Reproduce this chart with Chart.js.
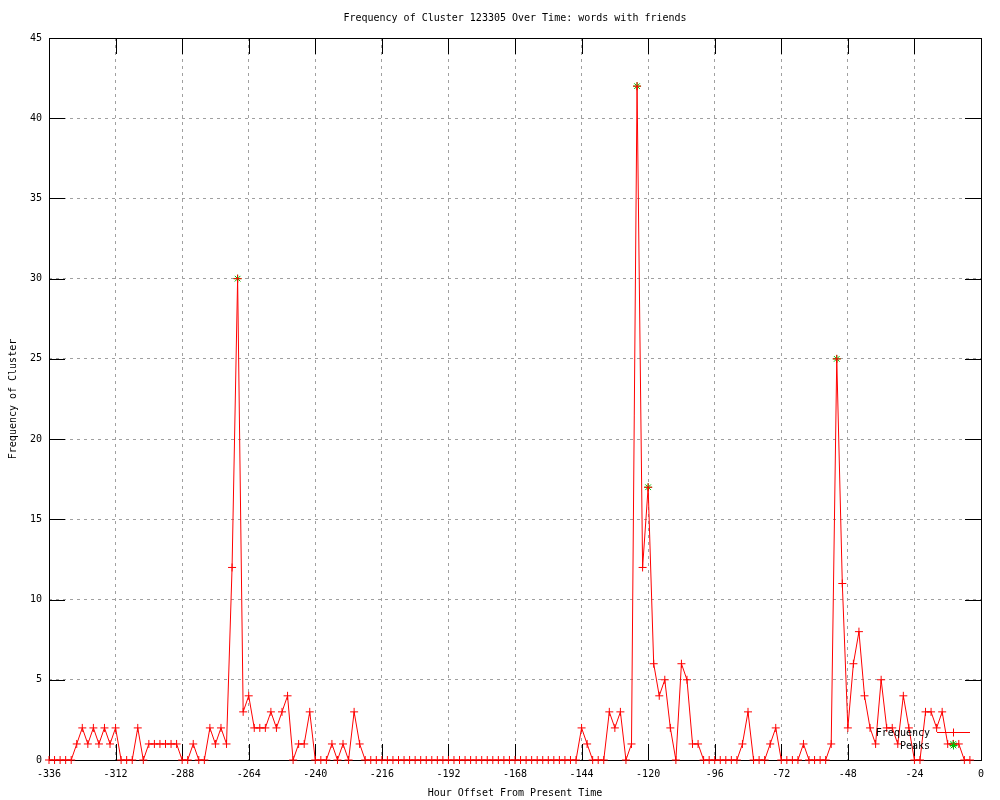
<!DOCTYPE html>
<html>
<head>
<meta charset="utf-8">
<title>Frequency of Cluster 123305 Over Time</title>
<script src="https://cdn.jsdelivr.net/npm/chart.js@4/dist/chart.umd.min.js"></script>
<style>
  html, body { margin: 0; padding: 0; background: #fff; }
</style>
</head>
<body>
<canvas id="myChart" width="1000" height="800"></canvas>
<script>
// one sample every 2 hours, from -336 up to -4
const hours = [
  -336, -334, -332, -330, -328, -326, -324, -322, -320, -318, -316, -314,
  -312, -310, -308, -306, -304, -302, -300, -298, -296, -294, -292, -290,
  -288, -286, -284, -282, -280, -278, -276, -274, -272, -270, -268, -266,
  -264, -262, -260, -258, -256, -254, -252, -250, -248, -246, -244, -242,
  -240, -238, -236, -234, -232, -230, -228, -226, -224, -222, -220, -218,
  -216, -214, -212, -210, -208, -206, -204, -202, -200, -198, -196, -194,
  -192, -190, -188, -186, -184, -182, -180, -178, -176, -174, -172, -170,
  -168, -166, -164, -162, -160, -158, -156, -154, -152, -150, -148, -146,
  -144, -142, -140, -138, -136, -134, -132, -130, -128, -126, -124, -122,
  -120, -118, -116, -114, -112, -110, -108, -106, -104, -102, -100, -98,
  -96, -94, -92, -90, -88, -86, -84, -82, -80, -78, -76, -74,
  -72, -70, -68, -66, -64, -62, -60, -58, -56, -54, -52, -50,
  -48, -46, -44, -42, -40, -38, -36, -34, -32, -30, -28, -26,
  -24, -22, -20, -18, -16, -14, -12, -10, -8, -6, -4
];

const frequency = [
  0, 0, 0, 0, 0, 1, 2, 1, 2, 1, 2, 1,
  2, 0, 0, 0, 2, 0, 1, 1, 1, 1, 1, 1,
  0, 0, 1, 0, 0, 2, 1, 2, 1, 12, 30, 3,
  4, 2, 2, 2, 3, 2, 3, 4, 0, 1, 1, 3,
  0, 0, 0, 1, 0, 1, 0, 3, 1, 0, 0, 0,
  0, 0, 0, 0, 0, 0, 0, 0, 0, 0, 0, 0,
  0, 0, 0, 0, 0, 0, 0, 0, 0, 0, 0, 0,
  0, 0, 0, 0, 0, 0, 0, 0, 0, 0, 0, 0,
  2, 1, 0, 0, 0, 3, 2, 3, 0, 1, 42, 12,
  17, 6, 4, 5, 2, 0, 6, 5, 1, 1, 0, 0,
  0, 0, 0, 0, 0, 1, 3, 0, 0, 0, 1, 2,
  0, 0, 0, 0, 1, 0, 0, 0, 0, 1, 25, 11,
  2, 6, 8, 4, 2, 1, 5, 2, 2, 1, 4, 2,
  0, 0, 3, 3, 2, 3, 1, 1, 1, 0, 0
];

const peakHours = [-268, -124, -120, -52, -10];
const peakValues = [30, 42, 17, 25, 1];

const xTicks = [-336, -312, -288, -264, -240, -216, -192, -168, -144, -120, -96, -72, -48, -24, 0];
const yTicks = [0, 5, 10, 15, 20, 25, 30, 35, 40, 45];

const chartTitle = 'Frequency of Cluster 123305 Over Time: words with friends';

const FONT = { family: 'DejaVu Sans Mono', size: 10, weight: 'normal' };

// gnuplot style frame with inward tick marks
const framePlugin = {
    id: 'frame',
    beforeDatasetsDraw(chart) {
        const { ctx, chartArea: a, scales } = chart;
        const tic = 16;
        ctx.save();
        ctx.strokeStyle = '#000';
        ctx.lineWidth = 1;
        ctx.strokeRect(a.left + 0.5, a.top + 0.5, a.right - a.left, a.bottom - a.top);
        ctx.beginPath();
        xTicks.forEach(v => {
            const px = Math.round(scales.x.getPixelForValue(v)) + 0.5;
            ctx.moveTo(px, a.bottom); ctx.lineTo(px, a.bottom - tic);
            ctx.moveTo(px, a.top); ctx.lineTo(px, a.top + tic);
        });
        yTicks.forEach(v => {
            const py = Math.round(scales.y.getPixelForValue(v)) + 0.5;
            ctx.moveTo(a.left, py); ctx.lineTo(a.left + tic, py);
            ctx.moveTo(a.right, py); ctx.lineTo(a.right - tic, py);
        });
        ctx.stroke();

        // title centred over the plot area, like gnuplot does
        ctx.font = '10px "DejaVu Sans Mono"';
        ctx.fillStyle = '#000';
        ctx.textAlign = 'center';
        ctx.textBaseline = 'middle';
        ctx.fillText(chartTitle, (a.left + a.right) / 2, 18);
        ctx.restore();
    }
};

// key sits in the lower right corner, as in the original
const keyPlugin = {
    id: 'key',
    afterDatasetsDraw(chart) {
        const { ctx } = chart;
        const ds = chart.data.datasets;
        ctx.save();
        ctx.font = '10px "DejaVu Sans Mono"';
        ctx.fillStyle = '#000';
        ctx.textAlign = 'right';
        ctx.textBaseline = 'middle';
        ctx.fillText(ds[0].label, 930, 733);
        ctx.fillText(ds[1].label, 930, 746);

        ctx.strokeStyle = '#ff0000';
        ctx.lineWidth = 1;
        ctx.beginPath();
        ctx.moveTo(937, 732.5);
        ctx.lineTo(970, 732.5);
        ctx.stroke();
        Chart.helpers.drawPoint(ctx, { pointStyle: 'cross', radius: 4, borderWidth: 1 }, 953.5, 732.5);
        ctx.strokeStyle = '#00c000';
        Chart.helpers.drawPoint(ctx, { pointStyle: 'star', radius: 4, borderWidth: 1 }, 953.5, 745.5);
        ctx.restore();
    }
};

const ctx = document.getElementById('myChart').getContext('2d');
const chart = new Chart(ctx, {
    type: 'line',
    data: {
        datasets: [{
            label: 'Frequency',
            data: hours.map((h, i) => ({ x: h, y: frequency[i] })),
            borderColor: '#ff0000',
            backgroundColor: '#ff0000',
            borderWidth: 1,
            pointStyle: 'cross',
            pointRadius: 4,
            pointBorderWidth: 1,
            pointBorderColor: '#ff0000',
            tension: 0,
            fill: false,
            clip: false,
            order: 0
        }, {
            label: 'Peaks',
            data: peakHours.map((h, i) => ({ x: h, y: peakValues[i] })),
            showLine: false,
            borderColor: '#00c000',
            backgroundColor: '#00c000',
            pointStyle: 'star',
            pointRadius: 4,
            pointBorderWidth: 1,
            pointBorderColor: '#00c000',
            clip: false,
            order: 1
        }]
    },
    options: {
        responsive: false,
        animation: false,
        devicePixelRatio: 1,
        layout: { padding: { left: 0, right: 19, top: 38, bottom: 0 } },
        plugins: {
            legend: { display: false },
            tooltip: { enabled: false },
            title: { display: false }
        },
        scales: {
            x: {
                type: 'linear',
                min: -336,
                max: 0,
                afterBuildTicks: s => { s.ticks = xTicks.map(v => ({ value: v })); },
                afterFit: s => { s.height = 40; },
                ticks: { font: FONT, color: '#000', padding: 8, maxRotation: 0, autoSkip: false },
                grid: { color: '#a0a0a0', drawTicks: false },
                border: { display: false, dash: [3, 4] },
                title: {
                    display: true,
                    text: 'Hour Offset From Present Time',
                    font: FONT,
                    color: '#000',
                    padding: { top: 0, bottom: 1 }
                }
            },
            y: {
                min: 0,
                max: 45,
                afterBuildTicks: s => { s.ticks = yTicks.map(v => ({ value: v })); },
                afterFit: s => { s.width = 49; },
                ticks: { font: FONT, color: '#000', padding: 7 },
                grid: { color: '#a0a0a0', drawTicks: false },
                border: { display: false, dash: [3, 4] },
                title: {
                    display: true,
                    text: 'Frequency of Cluster',
                    font: FONT,
                    color: '#000',
                    padding: { top: 7, bottom: 0 }
                }
            }
        }
    },
    plugins: [framePlugin, keyPlugin]
});
</script>
</body>
</html>
